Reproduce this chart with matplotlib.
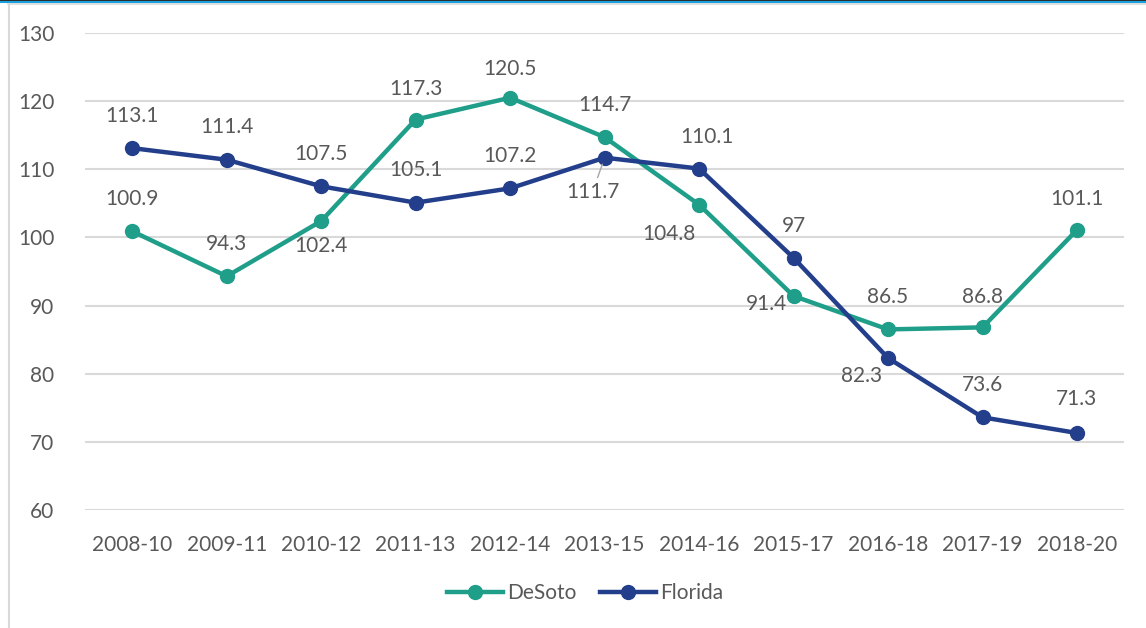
import matplotlib.pyplot as plt
from matplotlib.lines import Line2D

# data
periods = ['2008-10', '2009-11', '2010-12', '2011-13', '2012-14', '2013-15',
           '2014-16', '2015-17', '2016-18', '2017-19', '2018-20']
desoto = [100.9, 94.3, 102.4, 117.3, 120.5, 114.7, 104.8, 91.4, 86.5, 86.8, 101.1]
florida = [113.1, 111.4, 107.5, 105.1, 107.2, 111.7, 110.1, 97, 82.3, 73.6, 71.3]
desoto_lbl = ['100.9', '94.3', '102.4', '117.3', '120.5', '114.7', '104.8', '91.4', '86.5', '86.8', '101.1']
florida_lbl = ['113.1', '111.4', '107.5', '105.1', '107.2', '111.7', '110.1', '97', '82.3', '73.6', '71.3']

# label offsets in pixels (dx, dy)
desoto_off = [(0, 32), (0, 32), (0, -25), (0, 31), (0, 29), (0, 32),
              (-30, -29), (-27, -8), (0, 32), (0, 30), (0, 31)]
florida_off = [(0, 32), (0, 33), (0, 32), (0, 33), (0, 32), (-12, -34),
               (8, 32), (0, 32), (-26, -18), (0, 32), (0, 34)]

TEAL = '#1f9e89'
NAVY = '#233e8b'
TXT = '#595959'
plt.rcParams['font.family'] = ['Lato', 'DejaVu Sans']
FS = 15

fig = plt.figure(figsize=(11.46, 6.28), dpi=100)
ax = fig.add_axes([0.0742, 0.1879, 0.9068, 0.7596])

x = list(range(len(periods)))
ax.plot(x, desoto, color=TEAL, lw=3.2, marker='o', ms=10, label='DeSoto', zorder=3)
ax.plot(x, florida, color=NAVY, lw=3.2, marker='o', ms=10, label='Florida', zorder=3)

for i in x:
    ax.annotate(desoto_lbl[i], (i, desoto[i]), xytext=desoto_off[i],
                textcoords='offset pixels', ha='center', va='center',
                fontsize=FS, color=TXT)
    arrow = None
    if i == 5:
        arrow = dict(arrowstyle='-', color='#a6a6a6', lw=1, shrinkA=1, shrinkB=5)
    ax.annotate(florida_lbl[i], (i, florida[i]), xytext=florida_off[i],
                textcoords='offset pixels', ha='center', va='center',
                fontsize=FS, color=TXT, arrowprops=arrow)

ax.set_xlim(-0.5, len(periods) - 0.5)
ax.set_ylim(60, 130)
ax.set_yticks(range(60, 131, 10))
ax.set_xticks(x)
ax.set_xticklabels(periods)
ax.grid(axis='y', color='#d9d9d9', lw=1.5)
ax.set_axisbelow(True)
for s in ax.spines.values():
    s.set_visible(False)
ax.tick_params(axis='both', length=0, labelsize=FS, labelcolor=TXT)
ax.tick_params(axis='y', pad=22)
ax.tick_params(axis='x', pad=18)

fig.legend(loc='center', bbox_to_anchor=(0.5105, 0.0557), ncol=2, frameon=False,
           fontsize=FS, labelcolor=TXT, handlelength=2.7, handletextpad=0.2,
           columnspacing=1.1)

# frame bits from the source screenshot
fig.add_artist(Line2D([0, 1], [0.9992, 0.9992], color='black', lw=1.2))
fig.add_artist(Line2D([0, 1], [0.9968, 0.9968], color='#1aa0dc', lw=1.5))
fig.add_artist(Line2D([0.007, 1], [0.9935, 0.9935], color='#d9d9d9', lw=1.2))
fig.add_artist(Line2D([0.0075, 0.0075], [0, 0.9935], color='#d9d9d9', lw=1.5))

fig.savefig('out.png', dpi=100)
